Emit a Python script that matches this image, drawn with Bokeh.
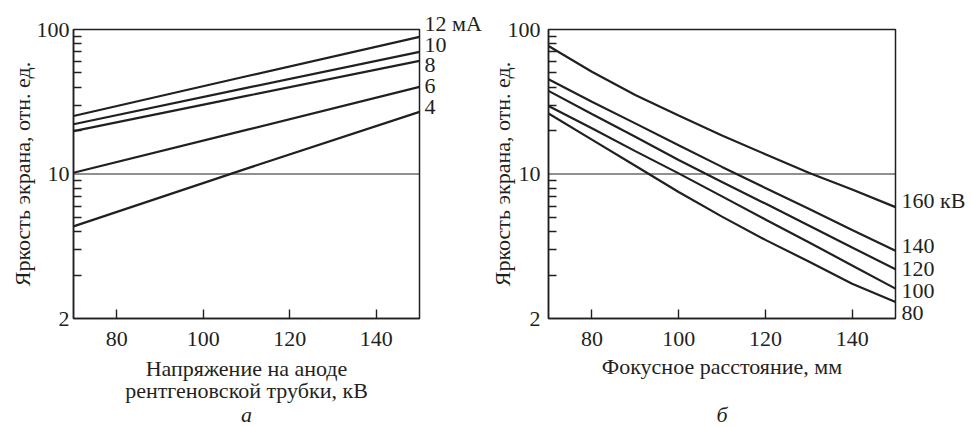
from bokeh.plotting import figure
from bokeh.layouts import row
from bokeh.models import FixedTicker, Span, Label, Range1d
from bokeh.embed import file_html
from bokeh.resources import INLINE

# ---------------- data: chart "а" (anode voltage, kV) ----------------
voltage_kv = [70, 110, 150]
a_12mA = [25.2, 47.5, 89.0]
a_10mA = [22.1, 39.4, 70.0]
a_8mA = [19.8, 34.7, 60.6]
a_6mA = [10.2, 20.2, 40.1]
a_4mA = [4.34, 10.9, 26.9]
a_series = [a_12mA, a_10mA, a_8mA, a_6mA, a_4mA]
a_names = ["12 мА", "10", "8", "6", "4"]

# ---------------- data: chart "б" (focal distance, mm) ----------------
focal_mm = [70, 80, 90, 100, 110, 120, 130, 140, 150]
b_160kV = [77.0, 51.0, 35.2, 25.4, 18.5, 13.7, 10.2, 7.8, 5.9]
b_140kV = [45.3, 31.6, 22.4, 15.8, 11.2, 8.0, 5.75, 4.1, 2.94]
b_120kV = [37.6, 26.0, 18.1, 12.5, 8.8, 6.24, 4.4, 3.1, 2.19]
b_100kV = [29.6, 20.7, 14.4, 10.1, 7.0, 4.85, 3.37, 2.33, 1.61]
b_80kV = [26.2, 17.3, 11.4, 7.5, 5.07, 3.5, 2.48, 1.74, 1.30]
b_series = [b_160kV, b_140kV, b_120kV, b_100kV, b_80kV]
b_names = ["160 кВ", "140", "120", "100", "80"]

x_range = (70, 150)
y_range = (1, 100)
x_ticks = [80, 100, 120, 140]
y_major = [1, 10, 100]
y_minor = [2, 3, 4, 5, 6, 7, 8, 9, 20, 30, 40, 50, 60, 70, 80, 90]
y_tick_text = {1: "2", 10: "10", 100: "100"}

INK = "#231f20"
FONT = "Liberation Serif"
FS = "22px"


def base_fig(width, border_left, border_right, xlabel, ylabel,
             ylab_standoff, ytick_standoff, xlab_standoff):
    p = figure(width=width, height=427, x_range=Range1d(*x_range),
               y_range=Range1d(*y_range), y_axis_type="log",
               output_backend="svg", toolbar_location=None,
               min_border_left=border_left, min_border_right=border_right,
               min_border_top=29, min_border_bottom=109)
    p.background_fill_color = "white"
    p.border_fill_color = "white"
    p.outline_line_color = INK
    p.outline_line_width = 1.5
    p.xgrid.visible = False
    p.ygrid.visible = False

    xa = p.xaxis[0]
    xa.ticker = FixedTicker(ticks=x_ticks)
    xa.major_tick_in = 9
    xa.major_tick_out = 0
    xa.minor_tick_in = 0
    xa.minor_tick_out = 0
    xa.major_tick_line_color = INK
    xa.major_tick_line_width = 1.4
    xa.axis_line_color = INK
    xa.axis_line_width = 1.5
    xa.major_label_text_font = FONT
    xa.major_label_text_font_size = FS
    xa.major_label_text_color = INK
    xa.major_label_standoff = 13
    xa.axis_label = xlabel
    xa.axis_label_text_font = FONT
    xa.axis_label_text_font_size = FS
    xa.axis_label_text_font_style = "normal"
    xa.axis_label_text_color = INK
    xa.axis_label_text_line_height = 0.916
    xa.axis_label_standoff = xlab_standoff

    ya = p.yaxis[0]
    ya.ticker = FixedTicker(ticks=y_major, minor_ticks=y_minor)
    ya.major_label_overrides = y_tick_text
    ya.major_tick_in = 0
    ya.major_tick_out = 0
    ya.minor_tick_in = 8
    ya.minor_tick_out = 0
    ya.minor_tick_line_color = INK
    ya.minor_tick_line_width = 1.4
    ya.axis_line_color = INK
    ya.axis_line_width = 1.5
    ya.major_label_text_font = FONT
    ya.major_label_text_font_size = FS
    ya.major_label_text_color = INK
    ya.major_label_standoff = ytick_standoff
    ya.axis_label = ylabel
    ya.axis_label_text_font = FONT
    ya.axis_label_text_font_size = FS
    ya.axis_label_text_font_style = "normal"
    ya.axis_label_text_color = INK
    ya.axis_label_standoff = ylab_standoff

    p.add_layout(Span(location=10, dimension="width", line_color=INK, line_width=1))
    return p


ylabel = "Яркость экрана, отн. ед."

# ---------------- chart а ----------------
p1 = base_fig(484, 73, 65, "Напряжение на аноде\nрентгеновской трубки, кВ", ylabel,
              -1, 4, 7)
for ys in a_series:
    p1.line(voltage_kv, ys, line_color=INK, line_width=2.2)
p1.add_layout(Label(x=voltage_kv[-1], y=a_8mA[-1], text="\n".join(a_names),
                    x_offset=5, y_offset=-4,
                    text_font=FONT, text_font_size=FS, text_color=INK,
                    text_line_height=0.837,
                    text_baseline="middle", text_align="left"), "right")
p1.add_layout(Label(x=110, y=414, y_units="canvas", text="а", text_font=FONT,
                    text_font_size=FS, text_font_style="italic", text_color=INK,
                    text_align="center", text_baseline="middle"), "above")

# ---------------- chart б ----------------
p2 = base_fig(487, 64, 76, "Фокусное расстояние, мм", ylabel, -10, 8, 5)
for ys in b_series:
    p2.line(focal_mm, ys, line_color=INK, line_width=2.2)
b_block = "\n".join([b_names[0], ""] + b_names[1:])
p2.add_layout(Label(x=focal_mm[-1], y=b_140kV[-1], text=b_block,
                    x_offset=6, y_offset=-6,
                    text_font=FONT, text_font_size=FS, text_color=INK,
                    text_line_height=0.896,
                    text_baseline="middle", text_align="left"), "right")
p2.add_layout(Label(x=110, y=414, y_units="canvas", text="б", text_font=FONT,
                    text_font_size=FS, text_font_style="italic", text_color=INK,
                    text_align="center", text_baseline="middle"), "above")

layout = row(p1, p2)
open("out.html", "w").write(file_html(layout, INLINE))
